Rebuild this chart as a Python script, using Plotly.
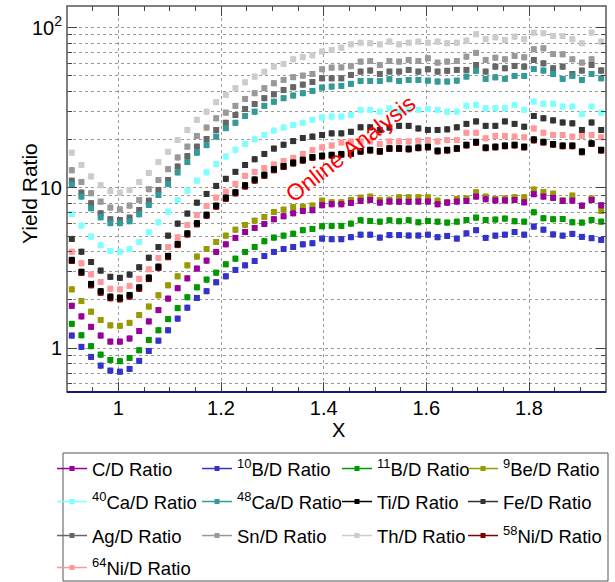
import plotly.graph_objects as go

# ---------------- data ----------------
x_vals = [0.9094, 0.9281, 0.9469, 0.9656, 0.9844, 1.0031, 1.0219, 1.0406, 1.0594, 1.0781,
          1.0969, 1.1156, 1.1344, 1.1531, 1.1719, 1.1906, 1.2094, 1.2281, 1.2469, 1.2656,
          1.2844, 1.3031, 1.3219, 1.3406, 1.3594, 1.3781, 1.3969, 1.4156, 1.4344, 1.4531,
          1.4719, 1.4906, 1.5094, 1.5281, 1.5469, 1.5656, 1.5844, 1.6031, 1.6219, 1.6406,
          1.6594, 1.6781, 1.6969, 1.7156, 1.7344, 1.7531, 1.7719, 1.7906, 1.8094, 1.8281,
          1.8469, 1.8656, 1.8844, 1.9031, 1.9219, 1.9406]

c_d = [1.84, 1.58, 1.36, 1.20, 1.10, 1.10, 1.15, 1.28, 1.47, 1.73, 2.04, 2.37, 2.73, 3.14, 3.52,
       3.99, 4.45, 4.88, 5.31, 5.63, 5.96, 6.38, 6.66, 6.95, 7.18, 7.26, 7.80, 7.91, 7.91, 8.06,
       8.30, 8.41, 8.10, 8.22, 8.20, 8.20, 8.22, 8.22, 7.91, 8.10, 8.22, 8.30, 8.83, 8.50, 8.35,
       8.35, 8.41, 8.13, 9.14, 8.83, 8.67, 8.30, 8.33, 7.76, 8.41, 7.80]
b10_d = [1.20, 1.02, 0.883, 0.779, 0.725, 0.714, 0.743, 0.834, 0.962, 1.115, 1.295, 1.53, 1.79,
         2.06, 2.27, 2.58, 2.81, 3.08, 3.29, 3.50, 3.76, 3.99, 4.16, 4.28, 4.45, 4.52, 4.83, 4.79,
         4.79, 4.93, 5.11, 5.11, 4.90, 5.08, 5.08, 5.05, 5.05, 5.11, 4.93, 5.02, 4.83, 5.21, 5.45,
         4.88, 5.04, 5.11, 5.31, 5.11, 5.74, 5.49, 5.13, 5.04, 5.17, 4.95, 4.86, 4.74]
b11_d = [1.42, 1.205, 1.03, 0.912, 0.845, 0.83, 0.87, 0.972, 1.127, 1.295, 1.52, 1.78, 2.08, 2.40,
         2.68, 2.96, 3.34, 3.62, 3.99, 4.28, 4.65, 4.90, 5.04, 5.18, 5.45, 5.55, 5.77, 5.80, 5.80,
         5.99, 6.29, 6.22, 6.16, 6.29, 6.20, 6.29, 6.11, 6.22, 6.16, 6.08, 6.16, 6.31, 6.53, 6.31,
         6.35, 6.44, 6.20, 6.16, 7.05, 6.47, 6.38, 6.40, 6.11, 6.08, 6.31, 6.16]
be9_d = [2.33, 1.97, 1.69, 1.50, 1.39, 1.38, 1.44, 1.61, 1.82, 2.14, 2.47, 2.81, 3.29, 3.73, 4.16,
         4.60, 5.04, 5.49, 5.88, 6.25, 6.59, 7.08, 7.32, 7.59, 7.64, 7.76, 8.33, 8.14, 8.14, 8.41,
         8.70, 8.83, 8.41, 8.45, 8.75, 8.75, 8.75, 8.75, 8.33, 8.14, 8.54, 8.60, 9.40, 8.83, 8.54,
         8.60, 8.75, 8.75, 9.77, 9.44, 9.22, 8.38, 8.96, 7.72, 8.60, 7.18]
ca40_d = [6.88, 5.82, 4.97, 4.39, 4.05, 4.00, 4.16, 4.60, 5.29, 6.11, 7.11, 8.41, 9.62, 11.1, 12.5,
          14.1, 15.7, 17.3, 18.8, 20.1, 21.4, 22.8, 23.8, 24.7, 25.5, 26.6, 27.5, 27.9, 27.9, 28.5,
          30.7, 30.7, 29.9, 31.4, 29.9, 30.7, 30.7, 31.0, 30.7, 29.9, 29.9, 32.5, 33.0, 31.4, 31.4,
          31.4, 33.0, 30.7, 34.6, 33.5, 33.5, 32.2, 32.2, 28.9, 32.2, 29.5]
ca48_d = [10.5, 8.84, 7.47, 6.56, 6.03, 6.03, 6.20, 6.85, 7.83, 9.04, 10.6, 12.5, 14.5, 16.6, 18.5,
          20.9, 23.6, 25.5, 28.1, 29.9, 32.5, 34.5, 36.3, 37.7, 39.0, 40.3, 42.3, 42.9, 43.3, 44.6,
          46.5, 46.5, 46.5, 47.7, 46.5, 47.2, 47.2, 46.7, 46.1, 46.1, 46.7, 49.5, 53.8, 47.9, 49.0,
          47.9, 50.0, 50.0, 55.2, 54.0, 51.4, 47.9, 50.0, 47.2, 51.4, 48.3]
ti_d = [3.56, 3.00, 2.52, 2.27, 2.10, 2.07, 2.15, 2.40, 2.76, 3.23, 3.77, 4.48, 5.21, 6.03, 6.81,
        7.76, 8.70, 9.40, 10.4, 11.3, 12.1, 13.1, 13.7, 14.4, 15.0, 15.6, 15.9, 16.1, 16.3, 16.5,
        17.0, 17.3, 17.0, 17.7, 17.7, 17.6, 17.9, 18.1, 17.1, 17.3, 17.7, 18.6, 19.4, 17.9, 18.1,
        18.4, 18.6, 18.1, 20.1, 19.4, 18.8, 18.4, 18.4, 16.9, 19.0, 17.3]
fe_d = [4.81, 4.00, 3.45, 3.05, 2.79, 2.75, 2.88, 3.20, 3.67, 4.28, 5.04, 5.99, 6.92, 8.09, 9.18,
        10.3, 11.4, 12.6, 13.9, 15.1, 16.3, 17.6, 18.6, 19.6, 20.5, 20.9, 21.4, 21.9, 21.9, 22.4,
        23.9, 23.9, 23.0, 23.8, 24.4, 24.4, 23.5, 23.0, 23.0, 23.2, 23.9, 25.1, 26.0, 24.4, 24.4,
        26.0, 25.1, 24.1, 28.1, 27.2, 26.4, 25.6, 25.3, 23.0, 25.6, 23.0]
ag_d = [11.1, 9.35, 8.03, 6.95, 6.38, 6.31, 6.53, 7.29, 8.33, 9.72, 11.2, 13.6, 15.8, 18.1, 20.2,
        23.0, 25.5, 28.5, 31.1, 33.4, 36.3, 38.4, 40.8, 42.5, 44.1, 45.8, 48.3, 48.3, 48.3, 50.7,
        53.2, 54.0, 51.4, 53.2, 53.2, 54.5, 53.2, 55.0, 53.2, 53.8, 54.5, 54.5, 58.5, 53.2, 57.1,
        55.8, 57.7, 57.1, 62.9, 59.9, 55.8, 57.1, 51.4, 54.0, 58.5, 54.0]
sn_d = [12.9, 10.9, 9.27, 8.22, 7.54, 7.36, 7.76, 8.41, 9.82, 11.2, 13.1, 15.5, 18.1, 21.1, 23.8,
        27.2, 29.5, 32.5, 35.9, 39.0, 41.9, 45.0, 47.2, 49.1, 50.2, 51.4, 55.0, 56.3, 56.5, 57.5,
        61.4, 61.9, 58.4, 61.9, 61.4, 62.9, 61.9, 64.4, 60.5, 61.4, 61.9, 65.9, 69.6, 62.9, 64.9,
        63.5, 66.6, 65.3, 73.3, 74.3, 68.5, 68.2, 63.5, 60.5, 63.5, 54.0]
th_d = [16.6, 13.9, 11.8, 10.4, 9.58, 9.35, 9.72, 10.9, 12.4, 14.5, 16.8, 19.9, 23.0, 26.6, 29.9,
        34.3, 38.0, 41.9, 45.6, 49.5, 53.1, 57.1, 59.4, 63.5, 65.5, 67.2, 71.0, 72.5, 75.0, 78.7,
        80.5, 79.9, 78.7, 81.8, 78.7, 80.5, 81.8, 80.5, 81.8, 79.9, 80.5, 83.0, 91.0, 84.7, 87.1,
        83.8, 87.9, 84.7, 93.1, 92.3, 88.7, 88.7, 84.7, 79.9, 93.1, 81.8]
ni58_d = [3.50, 2.95, 2.47, 2.22, 2.05, 2.02, 2.10, 2.35, 2.70, 3.17, 3.70, 4.40, 5.12, 5.93, 6.70,
          7.64, 8.55, 9.25, 10.2, 11.1, 11.9, 12.9, 13.5, 14.2, 14.8, 15.4, 15.7, 15.9, 16.1, 16.3,
          16.8, 17.1, 16.8, 17.5, 17.5, 17.4, 17.7, 17.9, 16.9, 17.1, 17.5, 18.4, 19.1, 17.7, 17.9,
          18.2, 18.4, 17.9, 19.8, 19.2, 18.6, 18.2, 18.2, 16.7, 18.8, 17.1]
ni64_d = [4.00, 3.39, 2.89, 2.59, 2.35, 2.33, 2.45, 2.71, 3.11, 3.66, 4.28, 4.92, 5.88, 6.78, 7.72,
          8.70, 9.48, 10.6, 11.9, 12.6, 13.3, 14.0, 14.7, 15.4, 16.3, 17.2, 17.9, 18.4, 19.2, 19.5,
          19.5, 19.5, 18.8, 19.5, 19.5, 19.5, 19.7, 19.9, 19.5, 19.9, 19.9, 22.1, 22.1, 20.4, 21.1,
          21.1, 20.9, 20.7, 23.5, 22.1, 21.4, 21.4, 20.9, 21.1, 21.4, 20.7]

legend_labels = ["C/D Ratio", "<sup>10</sup>B/D Ratio", "<sup>11</sup>B/D Ratio", "<sup>9</sup>Be/D Ratio",
                 "<sup>40</sup>Ca/D Ratio", "<sup>48</sup>Ca/D Ratio", "Ti/D Ratio", "Fe/D Ratio",
                 "Ag/D Ratio", "Sn/D Ratio", "Th/D Ratio", "<sup>58</sup>Ni/D Ratio",
                 "<sup>64</sup>Ni/D Ratio"]
series_values = [c_d, b10_d, b11_d, be9_d, ca40_d, ca48_d, ti_d, fe_d, ag_d, sn_d, th_d, ni58_d, ni64_d]
series_colors = ["#990099", "#3333cc", "#009900", "#999900", "#80ffff", "#339999", "#000000",
                 "#333333", "#666666", "#999999", "#cccccc", "#800000", "#ff9999"]

y_major = [1, 10, 100]
y_major_text = ["1", "10", "10<sup>2</sup>"]
y_minor = [0.6, 0.7, 0.8, 0.9, 2, 3, 4, 5, 6, 7, 8, 9, 20, 30, 40, 50, 60, 70, 80, 90]
x_major = [1.0, 1.2, 1.4, 1.6, 1.8]

# ---------------- figure ----------------
FONT = "Liberation Sans, Arial, Helvetica, sans-serif"
W, H = 615, 582
L, R, T, B = 67, 9, 6, 190
PW, PH = W - L - R, H - T - B


def px_to_paper_x(px):
    return (px - L) / PW


def px_to_paper_y(py):
    return (H - B - py) / PH


fig = go.Figure()

draw_order = [10, 9, 8, 5, 4, 7, 12, 11, 6, 3, 0, 2, 1]
for k in draw_order:
    fig.add_trace(go.Scatter(
        x=x_vals, y=series_values[k], mode="markers",
        marker=dict(symbol="square", size=6, color=series_colors[k], line=dict(width=0)),
        error_y=dict(type="percent", value=3.5, color=series_colors[k], thickness=1, width=1.5),
        showlegend=False, hoverinfo="x+y"))

# legend entries (one small legend per cell of the 4-column grid)
col_text_px = [92, 237, 377, 503]
row_px = [469, 502, 536, 568]
legend_layouts = {}
for k, (lab, col) in enumerate(zip(legend_labels, series_colors)):
    name = "legend" if k == 0 else f"legend{k + 1}"
    r, c = divmod(k, 4)
    fig.add_trace(go.Scatter(
        x=[None], y=[None], mode="lines+markers", name=lab,
        line=dict(color=col, width=1.5),
        marker=dict(symbol="square", size=5, color=col),
        legend=name, showlegend=True))
    legend_layouts[name] = dict(
        x=px_to_paper_x(col_text_px[c] - 40), y=px_to_paper_y(row_px[r]),
        xanchor="left", yanchor="middle", bgcolor="rgba(0,0,0,0)", borderwidth=0,
        font=dict(family=FONT, size=18.5, color="black"), itemwidth=30)

fig.update_layout(**legend_layouts)

grid_col = "#9a9a9a"
fig.update_layout(
    width=W, height=H, autosize=False,
    margin=dict(l=L, r=R, t=T, b=B, pad=0, autoexpand=False),
    paper_bgcolor="white", plot_bgcolor="white",
    font=dict(family=FONT, size=20, color="black"),
    xaxis=dict(
        range=[0.9, 1.95], tickvals=x_major, ticktext=["1", "1.2", "1.4", "1.6", "1.8"],
        ticks="inside", ticklen=10, tickwidth=1, tickcolor="#444", mirror="ticks",
        showline=False, zeroline=False, ticklabelstandoff=2, automargin=False,
        showgrid=True, gridcolor=grid_col, griddash="dot", gridwidth=1,
        tickfont=dict(family=FONT, size=20),
        minor=dict(dtick=0.05, tick0=0.9, ticks="inside", ticklen=5, tickcolor="#444", showgrid=False),
    ),
    yaxis=dict(
        type="log", range=[-0.273, 2.135], tickvals=y_major, ticktext=y_major_text,
        ticks="inside", ticklen=10, tickwidth=1, tickcolor="#444", mirror="ticks",
        showline=False, zeroline=False, ticklabelstandoff=4, automargin=False,
        showgrid=True, gridcolor=grid_col, griddash="dot", gridwidth=1,
        tickfont=dict(family=FONT, size=20),
        minor=dict(tickvals=y_minor, ticks="inside", ticklen=5, tickcolor="#444",
                   showgrid=True, gridcolor=grid_col, griddash="dot", gridwidth=1),
    ),
    shapes=[
        dict(type="rect", xref="paper", yref="paper", x0=0, x1=1, y0=0, y1=1,
             line=dict(color="#555555", width=1.5), layer="above"),
        dict(type="line", xref="paper", yref="paper", x0=0, x1=1, y0=0, y1=0,
             line=dict(color="#1a1a70", width=2), layer="above"),
        dict(type="rect", xref="paper", yref="paper",
             x0=px_to_paper_x(63), x1=px_to_paper_x(608),
             y0=px_to_paper_y(581), y1=px_to_paper_y(453),
             line=dict(color="#555555", width=1), layer="above"),
    ],
    annotations=[
        dict(text="Yield Ratio", xref="paper", yref="paper", x=px_to_paper_x(30),
             y=px_to_paper_y(194), showarrow=False, textangle=-90,
             font=dict(family=FONT, size=21, color="black"), xanchor="center", yanchor="middle"),
        dict(text="X", xref="paper", yref="paper", x=px_to_paper_x(338),
             y=px_to_paper_y(430), showarrow=False,
             font=dict(family=FONT, size=20, color="black"), xanchor="center", yanchor="middle"),
        dict(text="Online Analysis", xref="paper", yref="paper", x=px_to_paper_x(350),
             y=px_to_paper_y(149), showarrow=False, textangle=-38,
             font=dict(family=FONT, size=23, color="#ff0000"), xanchor="center", yanchor="middle"),
    ],
)

fig.write_html("out.html")
